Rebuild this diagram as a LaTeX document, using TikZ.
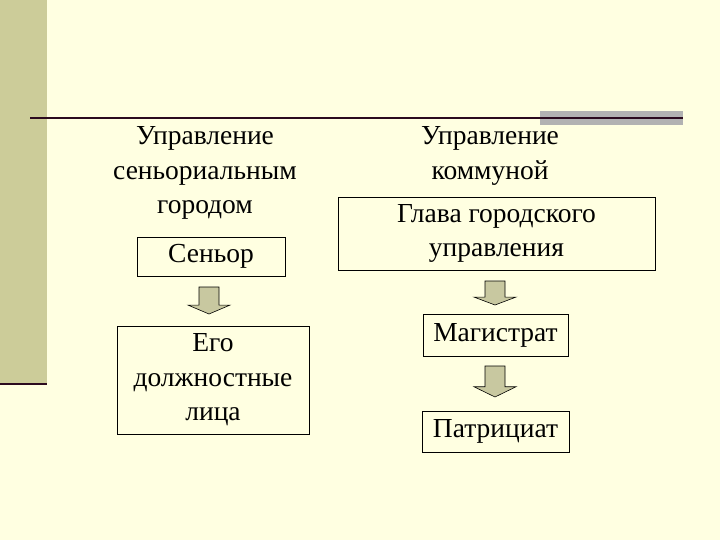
\documentclass[tikz,border=0pt]{standalone}
\usepackage{fontspec}
\setmainfont{Liberation Serif}
\begin{document}
\begin{tikzpicture}[x=1pt,y=-1pt,
  txt/.style={align=center,font=\fontsize{27.5}{34.5}\selectfont,inner sep=0pt},
  bx/.style={draw=black,line width=0.8pt,fill=none},
  arr/.style={fill=arrowc,draw=black,line width=0.6pt}]
\definecolor{bgc}{HTML}{FFFFE1}
\definecolor{barc}{HTML}{CCCC99}
\definecolor{linec}{HTML}{2B0A1E}
\definecolor{greyc}{HTML}{B2B2B2}
\definecolor{arrowc}{HTML}{C8C8A0}
\fill[bgc] (0,0) rectangle (720,540);
\useasboundingbox (0,0) rectangle (720,540);
\fill[barc] (0,0) rectangle (47,384);
\draw[linec,line width=2.5pt] (0,384) -- (47,384);
\fill[greyc] (540,111) rectangle (683,125);
\draw[linec,line width=2pt] (30,118) -- (683,118);
\node[txt] (t1) at (205,173) {Управление\\сеньориальным\\городом};
\node[txt] (t2) at (490,156) {Управление\\коммуной};
\node[bx,txt,minimum width=148,minimum height=39] (s) at (211,256.5) {\raisebox{-2pt}{Сеньор}};
\node[bx,txt,minimum width=192,minimum height=108] (e) at (213,380) {Его\\должностные\\лица};
\node[bx,txt,minimum width=317,minimum height=73] (g) at (496.5,233.5) {Глава городского\\управления};
\node[bx,txt,minimum width=145,minimum height=42] (m) at (495.5,335) {Магистрат};
\node[bx,txt,minimum width=147,minimum height=41] (p) at (495.5,431.5) {Патрициат};
\newcommand{\dnarrow}[3]{\draw[arr] (#1-10,#2) -- (#1+10,#2) -- (#1+10,#2+0.67*#3) -- (#1+21,#2+0.67*#3) -- (#1,#2+#3) -- (#1-21,#2+0.67*#3) -- (#1-10,#2+0.67*#3) -- cycle;}
\dnarrow{209}{287}{27}
\dnarrow{495}{281}{24}
\dnarrow{495}{366}{31}
\end{tikzpicture}
\end{document}
